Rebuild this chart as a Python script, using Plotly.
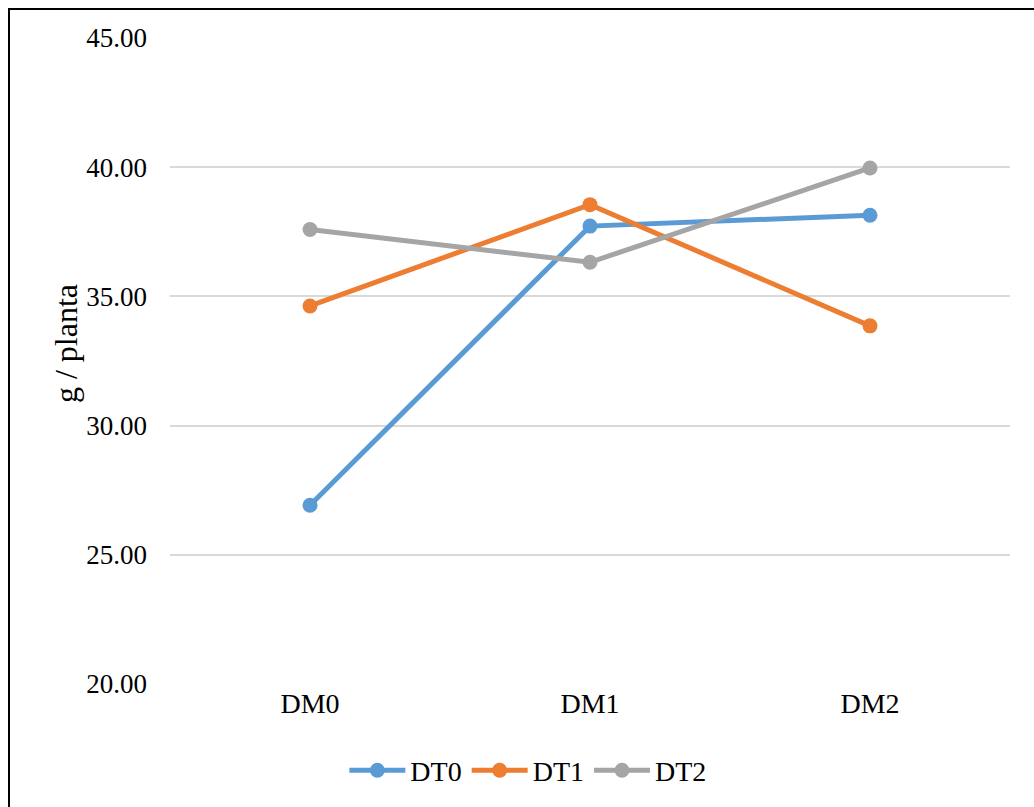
import plotly.graph_objects as go

categories = ["DM0", "DM1", "DM2"]
dt0 = [26.92, 37.72, 38.14]
dt1 = [34.63, 38.55, 33.86]
dt2 = [37.59, 36.32, 39.97]
y_ticks = [20, 25, 30, 35, 40, 45]
y_tick_text = ["20.00", "25.00", "30.00", "35.00", "40.00", "45.00"]

series = [
    ("DT0", dt0, "#5B9BD5"),
    ("DT1", dt1, "#ED7D31"),
    ("DT2", dt2, "#A5A5A5"),
]

FONT = "Liberation Serif, Times New Roman, serif"

fig = go.Figure()
for name, vals, color in series:
    fig.add_trace(go.Scatter(
        x=categories, y=vals, name=name, mode="lines+markers",
        line=dict(color=color, width=5),
        marker=dict(color=color, size=15),
    ))

W, H = 1034, 807
L, R, T, B = 170, 24, 38, 121
pw, ph = W - L - R, H - T - B

def px_x(p):
    return (p - L) / pw

def px_y(p):
    return (H - B - p) / ph

fig.update_layout(
    width=W, height=H,
    margin=dict(l=L, r=R, t=T, b=B),
    paper_bgcolor="white", plot_bgcolor="white",
    font=dict(family=FONT, color="black", size=26),
    showlegend=True,
    legend=dict(
        orientation="h", x=0.426, xanchor="center", y=-0.134, yanchor="middle",
        font=dict(size=28, family=FONT), itemwidth=56, tracegroupgap=0,
    ),
    xaxis=dict(
        type="category", range=[-0.5, 2.5], showgrid=False, showline=False,
        ticks="", tickfont=dict(size=28), zeroline=False,
    ),
    yaxis=dict(
        range=[20, 45], tickvals=y_ticks, ticktext=y_tick_text,
        showgrid=True, gridcolor="#D9D9D9", gridwidth=1.5,
        showline=False, zeroline=False, ticks="", ticklabelstandoff=22,
        tickfont=dict(size=27),
    ),
    annotations=[
        dict(text="g / planta", xref="paper", yref="paper",
             x=px_x(66), y=px_y(345), xanchor="center", yanchor="middle",
             textangle=-90, showarrow=False, font=dict(size=32)),
    ],
    shapes=[
        dict(type="rect", xref="paper", yref="paper",
             x0=px_x(9), x1=px_x(1060), y0=px_y(840), y1=px_y(9),
             line=dict(color="black", width=2), fillcolor="rgba(0,0,0,0)",
             layer="below"),
    ],
)

fig.write_html("out.html")
